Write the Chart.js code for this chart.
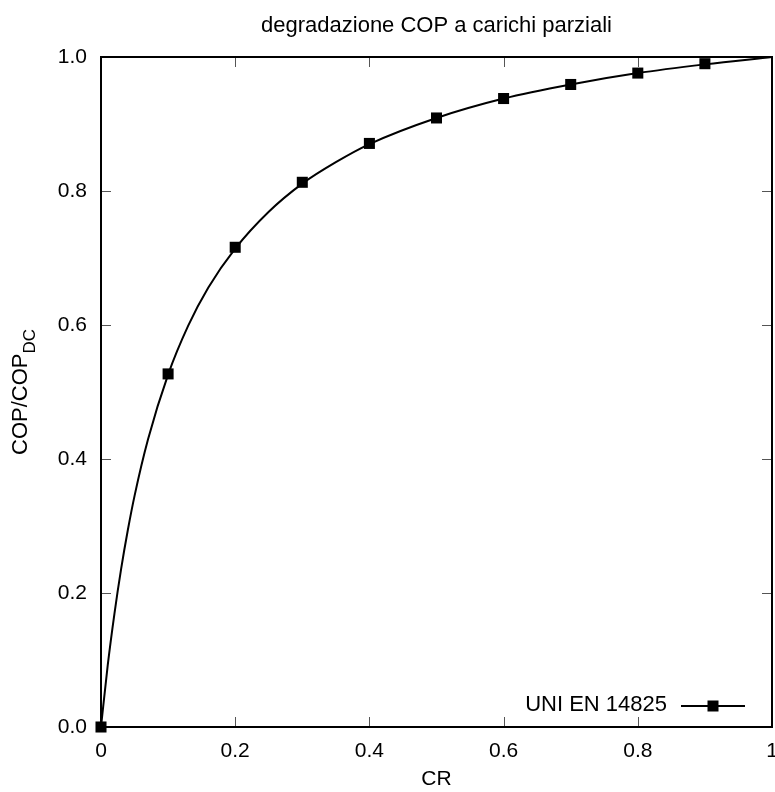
<!DOCTYPE html>
<html>
<head>
<meta charset="utf-8">
<script src="https://cdn.jsdelivr.net/npm/chart.js@4.4.1/dist/chart.umd.min.js"></script>
<style>
  html, body { margin: 0; padding: 0; background: #fff; }
  #wrap { width: 775px; height: 792px; }
</style>
</head>
<body>
<div id="wrap"><canvas id="chart"></canvas></div>
<script>
// curve COP/COP_DC vs CR
const curveCR  = [0, 0.01, 0.02, 0.03, 0.04, 0.05, 0.07, 0.1, 0.13, 0.16, 0.2, 0.25, 0.3, 0.35, 0.4, 0.5, 0.6, 0.7, 0.8, 0.9, 1.0];
const curveCOP = [0, 0.092, 0.169, 0.236, 0.294, 0.345, 0.429, 0.526, 0.599, 0.656, 0.714, 0.769, 0.811, 0.843, 0.870, 0.909, 0.938, 0.959, 0.976, 0.989, 1.0];

// square markers
const markCR  = [0, 0.1, 0.2, 0.3, 0.4, 0.5, 0.6, 0.7, 0.8, 0.9];
const markCOP = [0, 0.527, 0.716, 0.813, 0.871, 0.909, 0.938, 0.959, 0.976, 0.990];

const xTicks = [0, 0.2, 0.4, 0.6, 0.8, 1];
const yTicks = [0, 0.2, 0.4, 0.6, 0.8, 1.0];

const chartTitle = 'degradazione COP a carichi parziali';
const seriesName = 'UNI EN 14825';
const FONT = '"Liberation Sans", Arial, sans-serif';

// frame, inward ticks (mirrored), title, y label with subscript, legend
const gnuplotLook = {
  id: 'gnuplotLook',
  afterDraw(chart) {
    const { ctx, chartArea: a, scales } = chart;
    const x = scales.x, y = scales.y;
    ctx.save();

    ctx.strokeStyle = '#555';
    ctx.lineWidth = 1;
    const tl = 10;
    ctx.beginPath();
    xTicks.forEach(v => {
      const px = Math.round(x.getPixelForValue(v)) + 0.5;
      ctx.moveTo(px, a.bottom); ctx.lineTo(px, a.bottom - tl);
      ctx.moveTo(px, a.top); ctx.lineTo(px, a.top + tl);
    });
    yTicks.forEach(v => {
      const py = Math.round(y.getPixelForValue(v)) + 0.5;
      ctx.moveTo(a.left, py); ctx.lineTo(a.left + tl, py);
      ctx.moveTo(a.right, py); ctx.lineTo(a.right - tl, py);
    });
    ctx.stroke();

    ctx.strokeStyle = '#000';
    ctx.lineWidth = 2;
    ctx.strokeRect(a.left, a.top, a.right - a.left, a.bottom - a.top);

    // title
    ctx.fillStyle = '#000';
    ctx.font = '22px ' + FONT;
    ctx.textAlign = 'center';
    ctx.textBaseline = 'alphabetic';
    ctx.fillText(chartTitle, (a.left + a.right) / 2, 32);

    // y axis title with subscript
    ctx.save();
    ctx.translate(21, (a.top + a.bottom) / 2);
    ctx.rotate(-Math.PI / 2);
    ctx.textBaseline = 'middle';
    const main = 'COP/COP';
    ctx.font = '22px ' + FONT;
    const w1 = ctx.measureText(main).width;
    ctx.font = '17px ' + FONT;
    const w2 = ctx.measureText('DC').width;
    const start = -(w1 + w2) / 2;
    ctx.textAlign = 'left';
    ctx.font = '22px ' + FONT;
    ctx.fillText(main, start, 0);
    ctx.font = '17px ' + FONT;
    ctx.fillText('DC', start + w1, 9);
    ctx.restore();

    // legend
    ctx.textBaseline = 'middle';
    const ly = a.bottom - 21;
    const lx1 = a.right - 91, lx2 = a.right - 27;
    ctx.font = '22px ' + FONT;
    ctx.textAlign = 'right';
    ctx.fillText(seriesName, lx1 - 14, ly - 1);
    ctx.lineWidth = 2;
    ctx.beginPath();
    ctx.moveTo(lx1, ly); ctx.lineTo(lx2, ly);
    ctx.stroke();
    ctx.fillRect((lx1 + lx2) / 2 - 5.5, ly - 5.5, 11, 11);

    ctx.restore();
  }
};

new Chart(document.getElementById('chart'), {
  type: 'scatter',
  data: {
    datasets: [
      {
        label: seriesName,
        data: curveCR.map((v, i) => ({ x: v, y: curveCOP[i] })),
        showLine: true,
        borderColor: '#000',
        borderWidth: 2,
        pointRadius: 0,
        cubicInterpolationMode: 'monotone'
      },
      {
        label: seriesName + ' pts',
        data: markCR.map((v, i) => ({ x: v, y: markCOP[i] })),
        showLine: false,
        pointStyle: 'rect',
        pointRadius: 7.8,
        backgroundColor: '#000',
        borderColor: '#000',
        borderWidth: 0
      }
    ]
  },
  options: {
    responsive: true,
    maintainAspectRatio: false,
    animation: false,
    clip: false,
    layout: { autoPadding: false, padding: { top: 57, right: 3, left: 0, bottom: 0 } },
    plugins: {
      legend: { display: false },
      title: { display: false },
      tooltip: { enabled: false }
    },
    scales: {
      x: {
        type: 'linear',
        min: 0, max: 1,
        afterBuildTicks: s => { s.ticks = xTicks.map(v => ({ value: v })); },
        afterFit: s => { s.height = 65; s.paddingLeft = 0; s.paddingRight = 0; },
        grid: { display: false, drawTicks: false },
        border: { display: false },
        ticks: {
          color: '#000',
          font: { family: FONT, size: 21 },
          padding: 12,
          maxRotation: 0,
          callback: v => String(v)
        },
        title: {
          display: true,
          text: 'CR',
          color: '#000',
          font: { family: FONT, size: 21 },
          padding: { top: 2, bottom: 0 }
        }
      },
      y: {
        type: 'linear',
        min: 0, max: 1,
        afterBuildTicks: s => { s.ticks = yTicks.map(v => ({ value: v })); },
        afterFit: s => { s.width = 101; s.paddingTop = 0; s.paddingBottom = 0; },
        grid: { display: false, drawTicks: false },
        border: { display: false },
        ticks: {
          color: '#000',
          font: { family: FONT, size: 21 },
          padding: 14,
          callback: v => v.toFixed(1)
        }
      }
    }
  },
  plugins: [gnuplotLook]
});
</script>
</body>
</html>
